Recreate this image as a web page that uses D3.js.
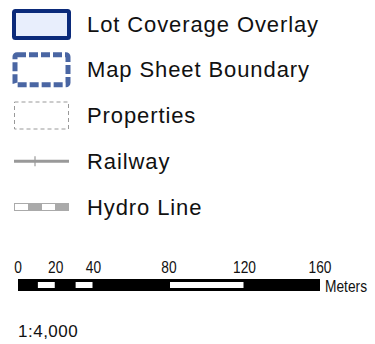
<!DOCTYPE html>
<html>
<head>
<meta charset="utf-8">
<script src="https://cdn.jsdelivr.net/npm/d3@7"></script>
<style>
  body { margin: 0; background: #fff; }
  svg { display: block; }
  text { font-family: "Liberation Sans", Arial, sans-serif; fill: #111; }
</style>
</head>
<body>
<svg id="legend" width="375" height="344"></svg>
<script>
// legend entries
var legendLabels = ["Lot Coverage Overlay", "Map Sheet Boundary", "Properties", "Railway", "Hydro Line"];
var legendKinds = ["lot", "sheet", "props", "rail", "hydro"];

// scale bar
var whiteSegs = [[10, 20], [30, 40], [80, 120]];
var scaleTicks = [0, 20, 40, 80, 120, 160];
var scaleUnit = "Meters";
var scaleRatio = "1:4,000";

var svg = d3.select("#legend");

var rowY = d3.scalePoint()
    .domain(legendKinds)
    .range([24, 207]);

var symX = 14, symW = 55;

legendKinds.forEach(function(k, i){
    var cy = rowY(k);
    var g = svg.append("g");

    if (k == "lot") {
        g.append("rect")
            .attr("x", symX).attr("y", cy - 13)
            .attr("width", symW).attr("height", 27)
            .attr("rx", 1.5)
            .style("fill", "#e8eefc")
            .style("stroke", "#0b2a7a")
            .style("stroke-width", 4);
    }
    else if (k == "sheet") {
        g.append("rect")
            .attr("x", symX + 1).attr("y", cy - 15)
            .attr("width", symW - 2).attr("height", 30)
            .attr("rx", 2)
            .style("fill", "none")
            .style("stroke", "#4a66a3")
            .style("stroke-width", 5)
            .style("stroke-dasharray", "9,3");
    }
    else if (k == "props") {
        g.append("rect")
            .attr("x", symX + 0.5).attr("y", cy - 13.5)
            .attr("width", symW - 1).attr("height", 27)
            .style("fill", "none")
            .style("stroke", "#999")
            .style("stroke-width", 1)
            .style("stroke-dasharray", "4,3");
    }
    else if (k == "rail") {
        g.append("line")
            .attr("x1", symX).attr("x2", symX + symW)
            .attr("y1", cy).attr("y2", cy)
            .style("stroke", "#999")
            .style("stroke-width", 3);
        g.append("line")
            .attr("x1", symX + 21).attr("x2", symX + 21)
            .attr("y1", cy - 5).attr("y2", cy + 5)
            .style("stroke", "#999")
            .style("stroke-width", 1.2);
    }
    else if (k == "hydro") {
        var segs = [0, 14, 28, 41, 55];
        for (var s = 0; s < 4; s++) {
            g.append("rect")
                .attr("x", symX + segs[s]).attr("y", cy - 3.5)
                .attr("width", segs[s+1] - segs[s]).attr("height", 7)
                .style("fill", s % 2 == 0 ? "#fff" : "#aaa");
        }
        g.append("rect")
            .attr("x", symX + 0.5).attr("y", cy - 3.5)
            .attr("width", symW - 1).attr("height", 7)
            .style("fill", "none")
            .style("stroke", "#aaa")
            .style("stroke-width", 1);
    }

    g.append("text")
        .attr("x", 87)
        .attr("y", cy)
        .attr("dy", "0.35em")
        .style("font-size", "22px")
        .style("letter-spacing", "0.9px")
        .text(legendLabels[i]);
});

// scale bar
var x = d3.scaleLinear()
    .domain([0, 160])
    .range([18, 320]);

var barY = 279, barH = 12;

svg.append("rect")
    .attr("x", x(0)).attr("y", barY)
    .attr("width", x(160) - x(0)).attr("height", barH)
    .style("fill", "#000");

// white segments are inset inside the black bar
svg.selectAll(".wseg")
    .data(whiteSegs)
    .enter()
    .append("rect")
    .attr("class", "wseg")
    .attr("x", function(d){ return x(d[0]) + 1; })
    .attr("y", barY + 3)
    .attr("width", function(d){ return x(d[1]) - x(d[0]) - 2; })
    .attr("height", barH - 6)
    .style("fill", "#fff");

// condensed labels: squeeze horizontally around the anchor
svg.selectAll(".tick")
    .data(scaleTicks)
    .enter()
    .append("text")
    .attr("class", "tick")
    .attr("text-anchor", "middle")
    .attr("transform", function(d){ return "translate(" + x(d) + ",273) scale(0.86,1)"; })
    .style("font-size", "16px")
    .text(function(d){ return d; });

svg.append("text")
    .attr("transform", "translate(325,292) scale(0.86,1)")
    .style("font-size", "16px")
    .text(scaleUnit);

svg.append("text")
    .attr("x", 18)
    .attr("y", 337)
    .style("font-size", "17px")
    .style("letter-spacing", "0.5px")
    .text(scaleRatio);
</script>
</body>
</html>
